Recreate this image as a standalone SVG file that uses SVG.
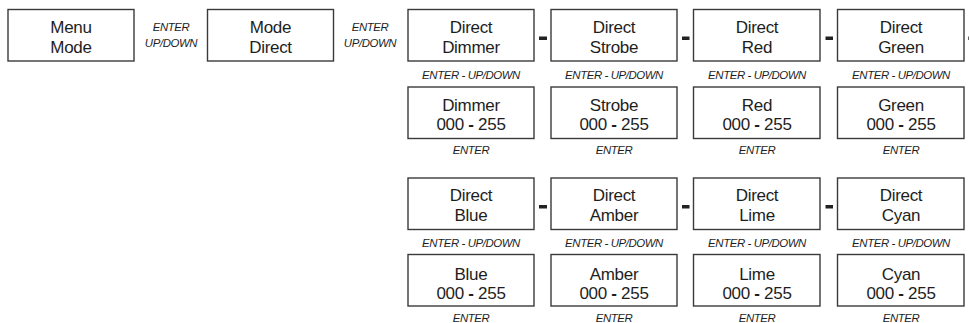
<svg xmlns="http://www.w3.org/2000/svg" width="969" height="323" viewBox="0 0 969 323">
<style>
  .box { fill: #ffffff; stroke: #3a3a3a; stroke-width: 1.4; }
  .t { font-family: "Liberation Sans", Arial, sans-serif; font-size: 17px; letter-spacing: -0.3px; fill: #1e1e1e; text-anchor: middle; }
  .s { font-family: "Liberation Sans", Arial, sans-serif; font-size: 11.4px; letter-spacing: -0.4px; font-style: italic; fill: #1e1e1e; text-anchor: middle; }
  .b { font-weight: bold; }
  .dash { fill: #222; }
</style>
<rect width="969" height="323" fill="#ffffff"/>

<g id="menu-mode">
  <rect class="box" x="8" y="9.5" width="126" height="51.5"/>
  <text class="t" x="71" y="32.5">Menu</text>
  <text class="t" x="71" y="52.5">Mode</text>
</g>
<g id="mode-direct">
  <rect class="box" x="207.5" y="9.5" width="126" height="51.5"/>
  <text class="t" x="270.5" y="32.5">Mode</text>
  <text class="t" x="270.5" y="52.5">Direct</text>
</g>

<g id="direct-dimmer">
  <rect class="box" x="408" y="9.5" width="126" height="51.5"/>
  <text class="t" x="471" y="32.5">Direct</text>
  <text class="t" x="471" y="52.5">Dimmer</text>
</g>
<g id="direct-strobe">
  <rect class="box" x="551" y="9.5" width="126" height="51.5"/>
  <text class="t" x="614" y="32.5">Direct</text>
  <text class="t" x="614" y="52.5">Strobe</text>
</g>
<g id="direct-red">
  <rect class="box" x="693.5" y="9.5" width="126.5" height="51.5"/>
  <text class="t" x="757" y="32.5">Direct</text>
  <text class="t" x="757" y="52.5">Red</text>
</g>
<g id="direct-green">
  <rect class="box" x="837.5" y="9.5" width="126.5" height="51.5"/>
  <text class="t" x="901" y="32.5">Direct</text>
  <text class="t" x="901" y="52.5">Green</text>
</g>

<g id="dimmer-value">
  <rect class="box" x="408" y="87" width="126" height="51.5"/>
  <text class="t" x="471" y="111">Dimmer</text>
  <text class="t" x="471" y="130">000 <tspan class="b">-</tspan> 255</text>
</g>
<g id="strobe-value">
  <rect class="box" x="551" y="87" width="126" height="51.5"/>
  <text class="t" x="614" y="111">Strobe</text>
  <text class="t" x="614" y="130">000 <tspan class="b">-</tspan> 255</text>
</g>
<g id="red-value">
  <rect class="box" x="693.5" y="87" width="126.5" height="51.5"/>
  <text class="t" x="757" y="111">Red</text>
  <text class="t" x="757" y="130">000 <tspan class="b">-</tspan> 255</text>
</g>
<g id="green-value">
  <rect class="box" x="837.5" y="87" width="126.5" height="51.5"/>
  <text class="t" x="901" y="111">Green</text>
  <text class="t" x="901" y="130">000 <tspan class="b">-</tspan> 255</text>
</g>

<g id="direct-blue">
  <rect class="box" x="408" y="178" width="126" height="51.5"/>
  <text class="t" x="471" y="200.5">Direct</text>
  <text class="t" x="471" y="220.5">Blue</text>
</g>
<g id="direct-amber">
  <rect class="box" x="551" y="178" width="126" height="51.5"/>
  <text class="t" x="614" y="200.5">Direct</text>
  <text class="t" x="614" y="220.5">Amber</text>
</g>
<g id="direct-lime">
  <rect class="box" x="693.5" y="178" width="126.5" height="51.5"/>
  <text class="t" x="757" y="200.5">Direct</text>
  <text class="t" x="757" y="220.5">Lime</text>
</g>
<g id="direct-cyan">
  <rect class="box" x="837.5" y="178" width="126.5" height="51.5"/>
  <text class="t" x="901" y="200.5">Direct</text>
  <text class="t" x="901" y="220.5">Cyan</text>
</g>

<g id="blue-value">
  <rect class="box" x="408" y="254.5" width="126" height="51.5"/>
  <text class="t" x="471" y="279.5">Blue</text>
  <text class="t" x="471" y="298.5">000 <tspan class="b">-</tspan> 255</text>
</g>
<g id="amber-value">
  <rect class="box" x="551" y="254.5" width="126" height="51.5"/>
  <text class="t" x="614" y="279.5">Amber</text>
  <text class="t" x="614" y="298.5">000 <tspan class="b">-</tspan> 255</text>
</g>
<g id="lime-value">
  <rect class="box" x="693.5" y="254.5" width="126.5" height="51.5"/>
  <text class="t" x="757" y="279.5">Lime</text>
  <text class="t" x="757" y="298.5">000 <tspan class="b">-</tspan> 255</text>
</g>
<g id="cyan-value">
  <rect class="box" x="837.5" y="254.5" width="126.5" height="51.5"/>
  <text class="t" x="901" y="279.5">Cyan</text>
  <text class="t" x="901" y="298.5">000 <tspan class="b">-</tspan> 255</text>
</g>

<g id="connectors">
  <text class="s" x="171" y="31">ENTER</text>
  <text class="s" x="171" y="46.5">UP/DOWN</text>
  <text class="s" x="370" y="31">ENTER</text>
  <text class="s" x="370" y="46.5">UP/DOWN</text>

  <text class="s" x="471" y="78.5">ENTER - UP/DOWN</text>
  <text class="s" x="614" y="78.5">ENTER - UP/DOWN</text>
  <text class="s" x="757" y="78.5">ENTER - UP/DOWN</text>
  <text class="s" x="901" y="78.5">ENTER - UP/DOWN</text>
  <text class="s" x="471" y="153.5">ENTER</text>
  <text class="s" x="614" y="153.5">ENTER</text>
  <text class="s" x="757" y="153.5">ENTER</text>
  <text class="s" x="901" y="153.5">ENTER</text>

  <text class="s" x="471" y="246.5">ENTER - UP/DOWN</text>
  <text class="s" x="614" y="246.5">ENTER - UP/DOWN</text>
  <text class="s" x="757" y="246.5">ENTER - UP/DOWN</text>
  <text class="s" x="901" y="246.5">ENTER - UP/DOWN</text>
  <text class="s" x="471" y="321.5">ENTER</text>
  <text class="s" x="614" y="321.5">ENTER</text>
  <text class="s" x="757" y="321.5">ENTER</text>
  <text class="s" x="901" y="321.5">ENTER</text>

  <rect class="dash" x="539" y="36.5" width="8" height="3.5"/>
  <rect class="dash" x="682" y="36.5" width="7.5" height="3.5"/>
  <rect class="dash" x="825.5" y="36.5" width="7.5" height="3.5"/>
  <rect class="dash" x="968.3" y="36.5" width="7.5" height="3.5"/>

  <rect class="dash" x="539" y="205" width="8" height="3.5"/>
  <rect class="dash" x="682" y="205" width="7.5" height="3.5"/>
  <rect class="dash" x="825.5" y="205" width="7.5" height="3.5"/>
</g>
</svg>
